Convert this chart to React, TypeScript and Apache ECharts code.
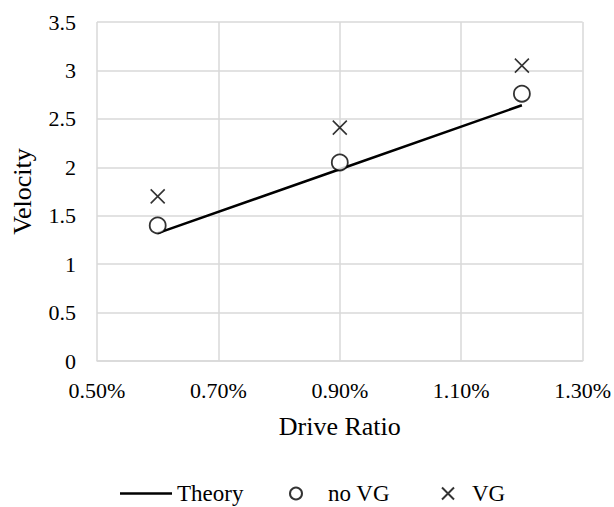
import React, { useEffect, useRef } from "react";
import * as echarts from "echarts";

const driveRatio = [0.6, 0.9, 1.2];
const theory = [1.32, 1.98, 2.64];
const noVG = [1.4, 2.05, 2.76];
const vg = [1.7, 2.41, 3.05];
const xTicks = { min: 0.5, max: 1.3, interval: 0.2 };
const yTicks = { min: 0, max: 3.5, interval: 0.5 };

const FONT = "Liberation Serif";

export default function App() {
  const ref = useRef<HTMLDivElement>(null);
  useEffect(() => {
    document.body.style.margin = "0";
    const chart = echarts.init(ref.current!, null, { renderer: "svg" });
    const pair = (ys: number[]) => driveRatio.map((x, i) => [x, ys[i]]);
    const txt = (size: number, f = FONT) => ({ fontFamily: f, fontSize: size, color: "#000" });
    chart.setOption({
      animation: false,
      textStyle: { fontFamily: FONT, color: "#000" },
      grid: { left: 97, right: 28, top: 22, bottom: 146 },
      xAxis: {
        type: "value",
        min: xTicks.min,
        max: xTicks.max,
        interval: xTicks.interval,
        name: "Drive Ratio",
        nameLocation: "middle",
        nameGap: 52,
        nameTextStyle: txt(26),
        axisLine: { show: true, lineStyle: { color: "#d9d9d9", width: 1.5 } },
        axisTick: { show: false },
        axisLabel: {
          ...txt(22),
          margin: 18,
          formatter: (v: number) => v.toFixed(2) + "%",
        },
        splitLine: { show: true, lineStyle: { color: "#d9d9d9", width: 1.5 } },
      },
      yAxis: {
        type: "value",
        min: yTicks.min,
        max: yTicks.max,
        interval: yTicks.interval,
        name: "Velocity",
        nameLocation: "middle",
        nameGap: 62,
        nameTextStyle: txt(26),
        axisLine: { show: false },
        axisTick: { show: false },
        axisLabel: {
          ...txt(22),
          margin: 21,
          formatter: (v: number) => String(Math.round(v * 10) / 10),
        },
        splitLine: { show: true, lineStyle: { color: "#d9d9d9", width: 1.5 } },
      },
      legend: [
        {
          data: [{ name: "Theory", icon: "rect" }],
          left: 120,
          top: 482,
          padding: 0,
          itemWidth: 52,
          itemHeight: 2.5,
          textStyle: txt(23),
        },
        {
          data: ["no VG"],
          left: 289,
          top: 482,
          padding: 0,
          itemWidth: 54,
          itemHeight: 12,
          textStyle: txt(23),
        },
        {
          data: ["VG"],
          left: 441,
          top: 482,
          padding: 0,
          itemWidth: 38,
          itemHeight: 12,
          textStyle: txt(23),
        },
      ],
      series: [
        {
          name: "Theory",
          type: "line",
          data: pair(theory),
          symbol: "none",
          showSymbol: false,
          lineStyle: { color: "#000", width: 2.5 },
          itemStyle: { color: "#000" },
          z: 2,
        },
        {
          name: "no VG",
          type: "scatter",
          data: pair(noVG),
          symbol: "circle",
          symbolSize: 16,
          itemStyle: { color: "#fff", borderColor: "#000", borderWidth: 1.8 },
          z: 3,
        },
        {
          name: "VG",
          type: "scatter",
          data: pair(vg),
          symbol: "path://M0,0L10,10M10,0L0,10",
          symbolSize: 14,
          itemStyle: { color: "transparent", borderColor: "#000", borderWidth: 1.6 },
          z: 3,
        },
      ],
    });
    return () => chart.dispose();
  }, []);
  return <div ref={ref} style={{ width: 614, height: 507 }} />;
}
